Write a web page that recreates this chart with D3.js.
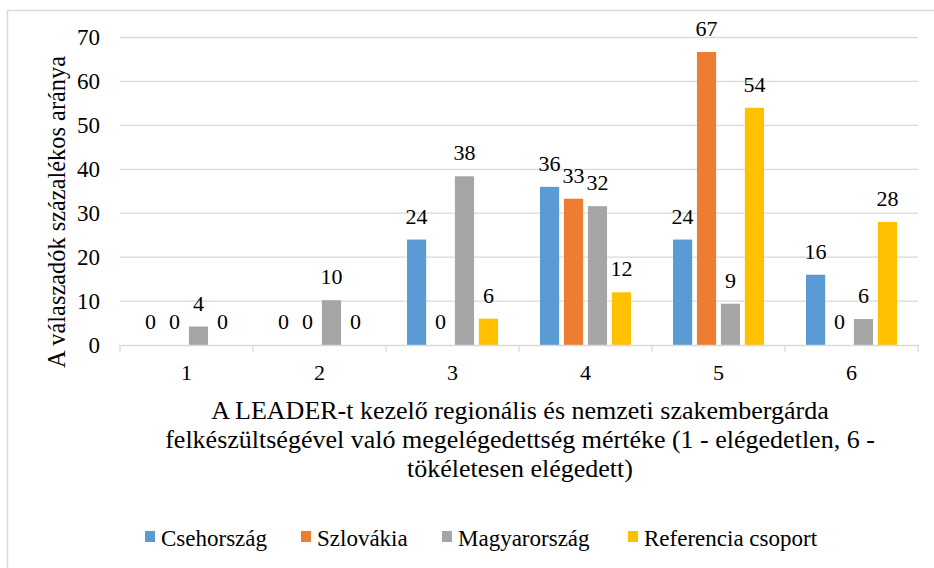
<!DOCTYPE html>
<html>
<head>
<meta charset="utf-8">
<script src="https://cdn.jsdelivr.net/npm/d3@7"></script>
<style>
  body { margin: 0; background: #fff; }
  text { font-family: "Liberation Serif", "Times New Roman", serif; fill: #000; }
</style>
</head>
<body>
<div id="chart"></div>
<script>
// Data
var categories = ["1", "2", "3", "4", "5", "6"],
    seriesNames = ["Csehország", "Szlovákia", "Magyarország", "Referencia csoport"],
    cseh = [0, 0, 24, 36, 24, 16],
    szlovakia = [0, 0, 0, 33.3, 66.7, 0],
    magyar = [4.2, 10.2, 38.4, 31.6, 9.4, 5.9],
    referencia = [0, 0, 6, 12, 54, 28],
    yTicks = [0, 10, 20, 30, 40, 50, 60, 70];

var values = [cseh, szlovakia, magyar, referencia],
    colors = ["#5b9bd5", "#ed7d31", "#a5a5a5", "#ffc000"];

var W = 934, H = 568,
    pLeft = 120, pRight = 918, pTop = 37.5, pBottom = 345;

var svg = d3.select("#chart").append("svg").attr("width", W).attr("height", H);

// chart frame
svg.append("rect")
  .attr("x", 7.5).attr("y", 10.5).attr("width", W).attr("height", H)
  .attr("fill", "none").attr("stroke", "#d9d9d9").attr("stroke-width", 1.5);

var x0 = d3.scaleBand().domain(categories).range([pLeft, pRight]);
var x1 = d3.scaleBand().domain(seriesNames).range([0, 91]).paddingInner(0.2);
var groupOffset = (x0.bandwidth() - 91) / 2;
var y = d3.scaleLinear().domain([0, 70]).range([pBottom, pTop]);

// gridlines
svg.append("g").selectAll("line").data(yTicks.filter(function(d){ return d > 0; }))
  .enter().append("line")
  .attr("x1", pLeft).attr("x2", pRight)
  .attr("y1", function(d){ return y(d); }).attr("y2", function(d){ return y(d); })
  .attr("stroke", "#d9d9d9").attr("stroke-width", 1.3);

// y axis labels
var yAxis = d3.axisLeft(y).tickValues(yTicks).tickSize(0).tickPadding(20);
var gy = svg.append("g").attr("transform", "translate(" + pLeft + ",0)").call(yAxis);
gy.select(".domain").remove();
gy.selectAll("text").style("font-family", "Liberation Serif").style("font-size", "23px").attr("fill", "#000");

// bars
var groups = svg.append("g").selectAll("g").data(categories).enter().append("g")
  .attr("transform", function(d){ return "translate(" + (x0(d) + groupOffset) + ",0)"; });

groups.selectAll("rect").data(function(d, i){
    return seriesNames.map(function(s, j){ return { s: s, v: values[j][i], c: colors[j] }; });
  }).enter().append("rect")
  .attr("x", function(d){ return x1(d.s); })
  .attr("width", x1.bandwidth())
  .attr("y", function(d){ return y(d.v); })
  .attr("height", function(d){ return pBottom - y(d.v); })
  .attr("fill", function(d){ return d.c; });

// data labels
groups.selectAll("text").data(function(d, i){
    return seriesNames.map(function(s, j){ return { s: s, v: values[j][i] }; });
  }).enter().append("text")
  .attr("x", function(d){ return x1(d.s) + x1.bandwidth() / 2; })
  .attr("y", function(d){ return y(d.v) - 16; })
  .attr("text-anchor", "middle")
  .style("font-size", "22px")
  .text(function(d){ return Math.round(d.v); });

// x axis
var xAxis = d3.axisBottom(x0).tickSize(0).tickPadding(19);
var gx = svg.append("g").attr("transform", "translate(0," + pBottom + ")").call(xAxis);
gx.select(".domain").attr("stroke", "#d9d9d9").attr("stroke-width", 1.3);
gx.selectAll("text").style("font-family", "Liberation Serif").style("font-size", "22px").attr("fill", "#000");

// category separators
svg.append("g").selectAll("line").data(categories.concat(["end"]))
  .enter().append("line")
  .attr("x1", function(d){ return d === "end" ? pRight : x0(d); })
  .attr("x2", function(d){ return d === "end" ? pRight : x0(d); })
  .attr("y1", pBottom).attr("y2", pBottom + 7)
  .attr("stroke", "#d9d9d9").attr("stroke-width", 1.3);

// axis titles
var xTitle = ["A LEADER-t kezelő regionális és nemzeti szakembergárda",
              "felkészültségével való megelégedettség mértéke (1 - elégedetlen, 6 -",
              "tökéletesen elégedett)"];
svg.append("g").selectAll("text").data(xTitle).enter().append("text")
  .attr("x", 520).attr("y", function(d, i){ return 419 + i * 29; })
  .attr("text-anchor", "middle")
  .style("font-size", "26px")
  .text(function(d){ return d; });

svg.append("text")
  .attr("transform", "translate(65,212) rotate(-90)")
  .attr("text-anchor", "middle")
  .style("font-size", "24.4px")
  .text("A válaszadók százalékos aránya");

// legend
var legendX = [145, 301, 442, 628];
var legend = svg.append("g").selectAll("g").data(seriesNames).enter().append("g")
  .attr("transform", function(d, i){ return "translate(" + legendX[i] + ",0)"; });
legend.append("rect").attr("x", 0).attr("y", 531).attr("width", 10).attr("height", 11)
  .attr("fill", function(d, i){ return colors[i]; });
legend.append("text").attr("x", 16).attr("y", 545.5).style("font-size", "23px")
  .text(function(d){ return d; });
</script>
</body>
</html>
